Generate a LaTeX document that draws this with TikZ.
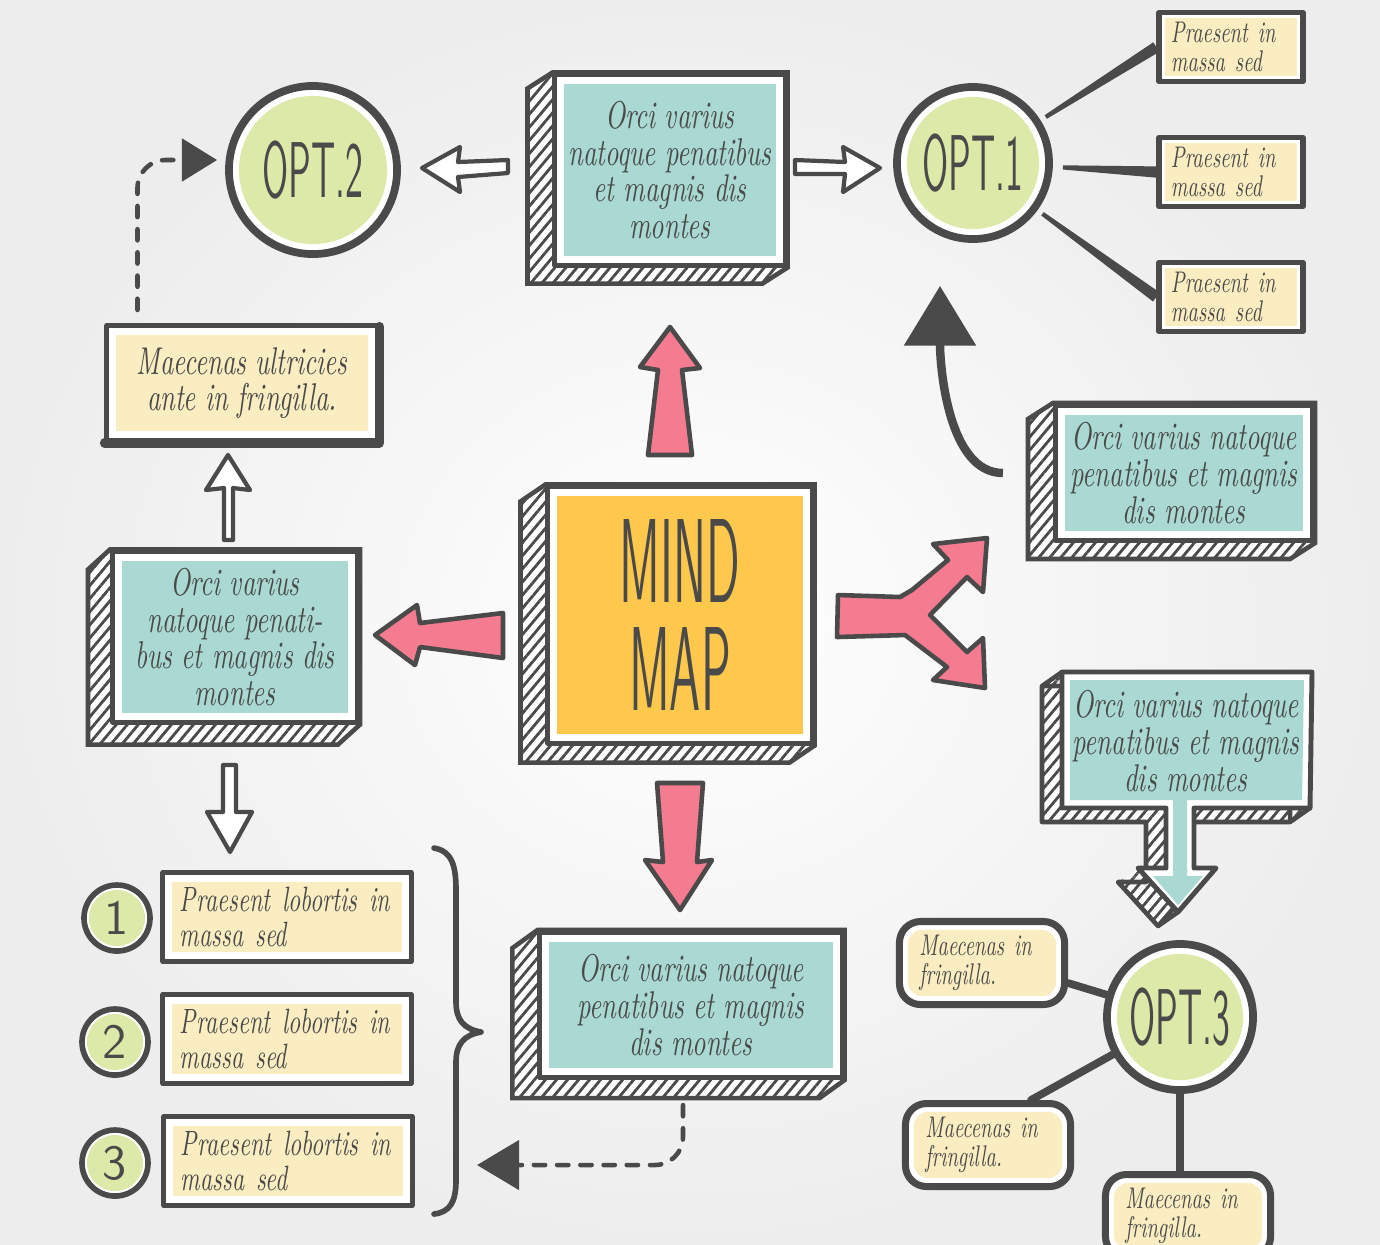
\documentclass[tikz,border=0pt]{standalone}
\usepackage{fontspec}
\usetikzlibrary{calc,arrows.meta,patterns.meta,backgrounds}
\newfontfamily\handfont[FakeStretch=0.68]{lmroman10-italic.otf}
\newfontfamily\optfont[FakeStretch=0.45]{lmsans10-regular.otf}
\newfontfamily\mindfont[FakeStretch=0.39]{lmsans10-regular.otf}

\definecolor{ink}{HTML}{4A4A4A}
\definecolor{aqua}{HTML}{A9D9D2}
\definecolor{sun}{HTML}{FDC84C}
\definecolor{rose}{HTML}{F57B90}
\definecolor{leaf}{HTML}{DDE9A8}
\definecolor{cream}{HTML}{FBEDC2}

% hatched side of a 3d box: node, shift x, shift y
\newcommand{\sideface}[3]{%
  \begin{scope}[on background layer]
    \draw[hatch] (#1.north west) -- ++(#2,#3) -- ($(#1.south west)+(#2,#3)$)
      -- ($(#1.south east)+(#2,#3)$) -- (#1.south east) -- (#1.north east) -- cycle;
  \end{scope}}
% tapered line from a circle (radius) to a box anchor
\newcommand{\taper}[3]{%
  \coordinate (ta) at ($(#1)!#3!(#2)$);
  \fill[ink] ($(ta)!0.6pt!90:(#2)$) -- ($(#2)!1.6pt!-90:(ta)$) -- ($(#2)!1.6pt!90:(ta)$)
    -- ($(ta)!0.6pt!-90:(#2)$) -- cycle;}

\begin{document}
\begin{tikzpicture}[x=0.01cm, y=-0.01cm, line join=round,
  hatch/.style={draw=ink, line width=1.3pt, preaction={fill=white},
    pattern={Lines[angle=50,distance=2.4pt,line width=0.8pt]}, pattern color=ink},
  hatchfill/.style={preaction={fill=white},
    pattern={Lines[angle=50,distance=2.4pt,line width=0.8pt]}, pattern color=ink},
  face/.style={draw=ink, line width=1.4pt, fill=white, inner sep=0pt, align=center,
    text=ink, font=\handfont\fontsize{11pt}{10.4pt}\selectfont,
    path picture={\fill[#1] ([shift={(2.6pt,2.6pt)}]path picture bounding box.south west)
      rectangle ([shift={(-2.6pt,-2.6pt)}]path picture bounding box.north east);}},
  note/.style={draw=ink, line width=1.5pt, fill=white, inner sep=0pt, align=left,
    minimum width=1.44cm, minimum height=0.69cm, text width=1.2cm, text=ink,
    font=\handfont\fontsize{8.5pt}{8pt}\selectfont,
    path picture={\fill[cream] ([shift={(1.6pt,1.6pt)}]path picture bounding box.south west)
      rectangle ([shift={(-1.6pt,-1.6pt)}]path picture bounding box.north east);}},
  item/.style={face=cream, align=left, minimum width=2.48cm, minimum height=0.89cm,
    text width=2.14cm, font=\handfont\fontsize{10pt}{9.7pt}\selectfont},
  tag/.style={draw=ink, line width=2pt, rounded corners=6pt, fill=white, inner sep=0pt,
    minimum width=1.65cm, minimum height=0.83cm, text width=1.25cm, align=left, text=ink,
    font=\handfont\fontsize{8.5pt}{8.3pt}\selectfont,
    path picture={\fill[cream, rounded corners=4pt]
      ([shift={(2.4pt,2.4pt)}]path picture bounding box.south west)
      rectangle ([shift={(-2.4pt,-2.4pt)}]path picture bounding box.north east);}},
  bubble/.style={circle, draw=ink, line width=2.2pt, fill=white, inner sep=0pt,
    minimum size=#1, text=ink, font=\optfont\fontsize{22.5pt}{22.5pt}\selectfont,
    path picture={\fill[leaf] (path picture bounding box.center) circle [radius={0.5*#1-0.1cm}];}},
  numdot/.style={circle, draw=ink, line width=1.6pt, fill=white, inner sep=0pt,
    minimum size=0.66cm, text=ink, font=\sffamily\fontsize{14pt}{14pt}\selectfont,
    path picture={\fill[leaf] (path picture bounding box.center) circle [radius=0.28cm];}},
  blockarrow/.style={draw=ink, line width=1.3pt, fill=rose},
  openarrow/.style={draw=ink, line width=1.2pt, fill=white},
  link/.style={draw=ink, line width=2.2pt, line cap=round},
  dashline/.style={draw=ink, line width=1.3pt, line cap=round, dash pattern=on 3.2pt off 3.4pt,
    rounded corners=8pt}]

  \useasboundingbox (0,0) rectangle (1380,1244);
  \begin{scope}[on background layer]
    \shade[inner color=white, outer color=black!7] (0,0) rectangle (1380,1244);
  \end{scope}

  % 3d boxes
  \node[face=sun, minimum width=2.64cm, minimum height=2.56cm,
        font=\mindfont\fontsize{34pt}{30.5pt}\selectfont] (mind) at (680,615) {MIND\\MAP};
  \node[face=aqua, minimum width=2.30cm, minimum height=1.90cm] (topbox) at (670,170)
    {Orci varius\\natoque penatibus\\et magnis dis\\montes};
  \node[face=aqua, minimum width=2.45cm, minimum height=1.70cm] (leftbox) at (235,637)
    {Orci varius\\natoque penati-\\bus et magnis dis\\montes};
  \node[face=aqua, minimum width=3.02cm, minimum height=1.45cm] (botbox) at (691,1005)
    {Orci varius natoque\\penatibus et magnis\\dis montes};
  \node[face=aqua, minimum width=2.57cm, minimum height=1.35cm] (rbox) at (1184,473)
    {Orci varius natoque\\penatibus et magnis\\dis montes};
  \sideface{mind}{-25}{17}
  \sideface{topbox}{-25}{16}
  \sideface{leftbox}{-22}{20}
  \sideface{botbox}{-25}{18}
  \sideface{rbox}{-25}{16}

  % box with the arrow under it
  \def\calloutpath{(1062,672) -- (1312,672) -- (1310,808) -- (1194,808) -- (1194,868)
    -- (1216,868) -- (1178,912) -- (1138,868) -- (1166,868) -- (1166,808) -- (1062,808) -- cycle}
  \foreach \t in {0.1,0.2,...,1.0}
    \fill[hatchfill, shift={(-20*\t,14*\t)}] \calloutpath;
  \draw[ink, line width=1.3pt, shift={(-20,14)}] \calloutpath;
  \draw[ink, line width=1.3pt] (1062,672) -- (1042,686) (1310,808) -- (1290,822)
    (1178,912) -- (1158,926);
  \draw[ink, line width=1.4pt, fill=white] \calloutpath;
  \fill[aqua] (1070,680) -- (1304,680) -- (1302,800) -- (1187,800) -- (1187,876)
    -- (1203,876) -- (1178,905) -- (1153,876) -- (1173,876) -- (1173,800) -- (1070,800) -- cycle;
  \node[align=center, text=ink, font=\handfont\fontsize{11pt}{10.4pt}\selectfont]
    (callbox) at (1186,741) {Orci varius natoque\\penatibus et magnis\\dis montes};

  % flat boxes
  \node[face=cream, minimum width=2.70cm, minimum height=1.15cm] (ultrabox) at (242,383)
    {Maecenas ultricies\\ante in fringilla.};
  \draw[ink, line width=2.6pt, line cap=round] ([yshift=-1pt]ultrabox.north east)
    -- (ultrabox.south east) -- (ultrabox.south west);
  \node[note] (p1) at (1231,47) {Praesent in\\massa sed};
  \node[note] (p2) at (1231,172) {Praesent in\\massa sed};
  \node[note] (p3) at (1231,297) {Praesent in\\massa sed};
  \node[item] (b1) at (287,917) {Praesent lobortis in\\massa sed};
  \node[item] (b2) at (287,1039) {Praesent lobortis in\\massa sed};
  \node[item] (b3) at (288,1161) {Praesent lobortis in\\massa sed};
  \node[numdot] (n1) at (117,918) {1};
  \node[numdot] (n2) at (115,1042) {2};
  \node[numdot] (n3) at (115,1163) {3};
  \node[tag] (q1) at (982,963) {Maecenas in\\fringilla.};
  \node[tag] (q2) at (988,1145) {Maecenas in\\fringilla.};
  \node[tag] (q3) at (1188,1216) {Maecenas in\\fringilla.};

  % circles
  \node[bubble=1.68cm] (opt2) at (313,170) {OPT.2};
  \node[bubble=1.52cm] (opt1) at (973,163) {OPT.1};
  \node[bubble=1.46cm] (opt3) at (1180,1017) {OPT.3};

  % lines to the small boxes
  \taper{opt1}{p1.west}{0.86cm}
  \taper{opt1}{p2.west}{0.9cm}
  \taper{opt1}{p3.west}{0.86cm}
  \draw[link] ([yshift=-0.2cm]q1.east) -- (opt3);
  \draw[link] ([xshift=0.43cm]q2.north) -- (opt3);
  \draw[link] (opt3) -- (opt3 |- q3.north);

  % pink arrows
  \draw[blockarrow] (670,327) -- (700,368) -- (682,370) -- (692,455) -- (648,455)
    -- (658,370) -- (640,367) -- cycle;
  \draw[blockarrow] (375,635) -- (417,605) -- (420,623) -- (503,613) -- (503,658)
    -- (420,647) -- (415,665) -- cycle;
  \draw[blockarrow] (657,783) -- (703,783) -- (697,862) -- (712,860) -- (680,910)
    -- (645,860) -- (663,862) -- cycle;
  \draw[blockarrow] (838,595) -- (900,597) -- (912,590) -- (948,560) -- (933,544)
    -- (987,538) -- (983,592) -- (967,577) -- (930,615) -- (967,652) -- (983,638)
    -- (985,688) -- (933,680) -- (947,667) -- (905,635) -- (837,637) -- cycle;

  % white arrows
  \draw[openarrow] (422,168) -- (460,147) -- (458,162) -- (508,160) -- (508,173)
    -- (458,177) -- (460,192) -- cycle;
  \draw[openarrow] (880,168) -- (843,147) -- (845,162) -- (795,160) -- (795,174)
    -- (845,174) -- (843,192) -- cycle;
  \draw[openarrow] (228,455) -- (250,490) -- (233,488) -- (233,540) -- (224,540)
    -- (224,488) -- (206,490) -- cycle;
  \draw[openarrow] (223,765) -- (236,765) -- (236,812) -- (252,812) -- (230,852)
    -- (207,812) -- (223,812) -- cycle;

  % brace
  \draw[ink, line width=1.6pt, line cap=round] (434,848) .. controls (452,851) and (456,866) .. (456,890)
    -- (456,1002) .. controls (456,1020) and (464,1029) .. (481,1032)
    .. controls (464,1035) and (456,1044) .. (456,1062) -- (456,1180)
    .. controls (456,1202) and (450,1212) .. (434,1214);
  \coordinate (bracein) at (477,1165);

  % dashed and curved arrows
  \draw[dashline, -{Triangle[length=10pt,width=12pt]}]
    ([xshift=0.33cm,yshift=0.13cm]ultrabox.north west) |- ([xshift=-0.08cm,yshift=0.1cm]opt2.west);
  \draw[dashline, -{Triangle[length=12pt,width=14pt]}]
    ([xshift=-0.08cm,yshift=-0.25cm]botbox.south) |- (bracein);
  \draw[ink, line width=2.4pt, -{Triangle[length=17pt,width=20pt]}]
    ([xshift=-0.5cm]rbox.west) .. controls +(-55,0) and +(0,80) .. ([xshift=-0.33cm,yshift=-0.43cm]opt1.south);
\end{tikzpicture}
\end{document}
